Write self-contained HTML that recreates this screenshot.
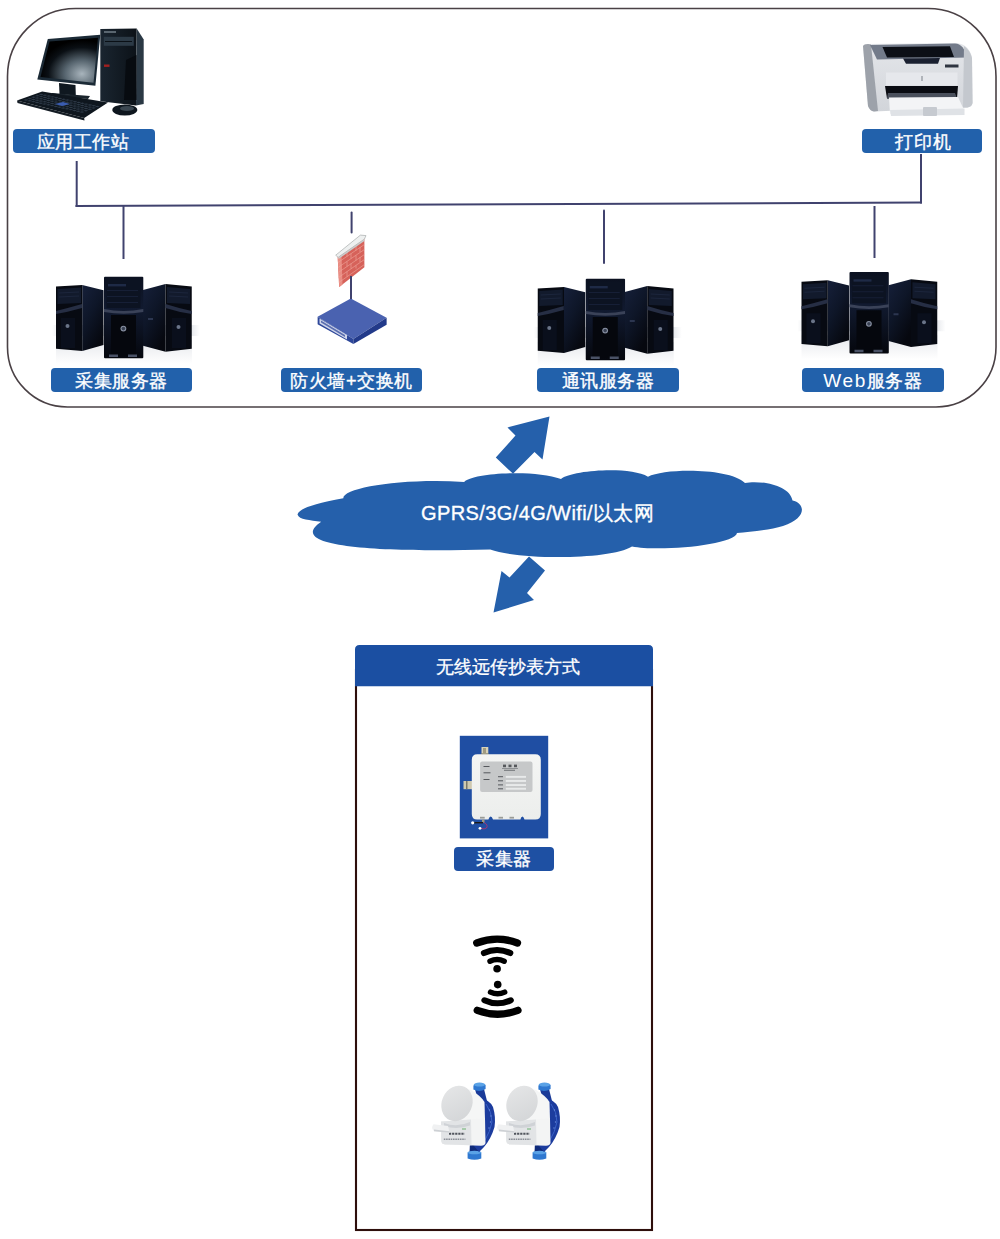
<!DOCTYPE html>
<html><head><meta charset="utf-8">
<style>
html,body{margin:0;padding:0;background:#fff;}
body{width:1000px;height:1239px;position:relative;overflow:hidden;font-family:"Liberation Sans",sans-serif;}
svg{position:absolute;left:0;top:0;}
.lb{position:absolute;background:#2261ab;color:#fff;border-radius:4px;font-weight:normal;font-size:18px;text-align:center;line-height:24px;height:23.5px;letter-spacing:0.6px;-webkit-text-stroke:0.35px #fff;}
.lb2{position:absolute;background:#1b4fa2;color:#fff;font-size:17px;text-align:center;}
.ct{position:absolute;color:#fff;font-size:17px;}
</style></head><body>
<svg width="1000" height="1239" viewBox="0 0 1000 1239">
<defs>
  <linearGradient id="sideL" x1="0" y1="0" x2="0.6" y2="1">
    <stop offset="0" stop-color="#16203a"/><stop offset="0.5" stop-color="#0e1628"/><stop offset="1" stop-color="#06080f"/>
  </linearGradient>
  <linearGradient id="sideR" x1="0" y1="0" x2="0.6" y2="1">
    <stop offset="0" stop-color="#16203a"/><stop offset="0.5" stop-color="#0e1628"/><stop offset="1" stop-color="#06080f"/>
  </linearGradient>
  <linearGradient id="front" x1="0" y1="0" x2="0" y2="1">
    <stop offset="0" stop-color="#0b1120"/><stop offset="0.4" stop-color="#111a30"/><stop offset="1" stop-color="#05070d"/>
  </linearGradient>
  <linearGradient id="floor" x1="0" y1="0" x2="1" y2="0">
    <stop offset="0" stop-color="#fff"/><stop offset="0.08" stop-color="#dfe2e7"/><stop offset="0.92" stop-color="#dfe2e7"/><stop offset="1" stop-color="#fff"/>
  </linearGradient>
  <linearGradient id="floorV" x1="0" y1="0" x2="0" y2="1">
    <stop offset="0" stop-color="#e6e8ec"/><stop offset="1" stop-color="#fff"/>
  </linearGradient>
  <g id="srv">
    <rect x="52" y="325" width="148" height="11" fill="url(#floor)"/>
    <rect x="56" y="340" width="136" height="24" fill="url(#floorV)"/>
    <!-- left server -->
    <polygon points="82.25,285 103.5,290.25 103.5,345 82.25,351" fill="url(#sideL)"/>
    <polygon points="56,286.5 82.25,285 82.25,351 56,348.75" fill="#070a12"/>
    <polygon points="57.5,289 81,287.5 81,303 57.5,304" fill="#121a2c"/>
    <line x1="59" y1="293" x2="79" y2="292" stroke="#1e2840" stroke-width="0.8"/>
    <line x1="59" y1="297" x2="79" y2="296" stroke="#1e2840" stroke-width="0.8"/>
    <path d="M56,311 Q68,308 82,304 L82,308 Q68,312 56,314Z" fill="#262e44"/>
    <rect x="61" y="318" width="14" height="30" fill="#0a0f1c"/>
    <circle cx="67.5" cy="326" r="2" fill="#6a7488"/>
    <!-- right server -->
    <polygon points="143,290 165.5,284 165.5,351.75 143,345.75" fill="url(#sideR)"/>
    <polygon points="165.5,284 191.75,286.5 191.75,348.75 165.5,351.75" fill="#070a12"/>
    <polygon points="167,287 190,289 190,304 167,303" fill="#121a2c"/>
    <line x1="169" y1="292" x2="188" y2="293" stroke="#1e2840" stroke-width="0.8"/>
    <line x1="169" y1="296" x2="188" y2="297" stroke="#1e2840" stroke-width="0.8"/>
    <path d="M165.5,304 Q178,308 191.75,311 L191.75,314 Q178,312 165.5,308Z" fill="#262e44"/>
    <rect x="172" y="318" width="14" height="30" fill="#0a0f1c"/>
    <circle cx="178.5" cy="327" r="2" fill="#6a7488"/>
    <rect x="148" y="318" width="5" height="2" fill="#2c3650"/>
    <!-- middle server -->
    <rect x="104" y="276.75" width="39.3" height="81.5" rx="1" fill="url(#front)"/>
    <rect x="106.5" y="280" width="34" height="28" fill="#0c1322"/>
    <rect x="108" y="284" width="18" height="2.4" fill="#1e2a46"/>
    <line x1="107" y1="290.5" x2="138" y2="290.5" stroke="#161f36" stroke-width="1"/>
    <line x1="107" y1="296.5" x2="138" y2="296.5" stroke="#161f36" stroke-width="1"/>
    <line x1="107" y1="302.5" x2="138" y2="302.5" stroke="#161f36" stroke-width="1"/>
    <path d="M104,309 Q123.5,313 143.3,309 L143.3,312 Q123.5,315.5 104,312Z" fill="#3a4258"/>
    <rect x="111" y="315" width="25" height="41" fill="#05070d"/>
    <circle cx="123.4" cy="328.6" r="2.9" fill="#8890a2"/><circle cx="123.4" cy="328.6" r="1.8" fill="#3a4254"/>
    <rect x="109" y="354.5" width="9" height="2.5" fill="#4a5266"/>
    <rect x="128" y="354.5" width="9" height="2.5" fill="#4a5266"/>
  </g>
  <radialGradient id="scr" cx="0.72" cy="0.8" r="0.75">
    <stop offset="0" stop-color="#a8b4bc"/><stop offset="0.4" stop-color="#56646e"/><stop offset="0.78" stop-color="#0a0f14"/><stop offset="1" stop-color="#000"/>
  </radialGradient>
  <linearGradient id="tower" x1="0" y1="0" x2="1" y2="0">
    <stop offset="0" stop-color="#1a2530"/><stop offset="1" stop-color="#0c1218"/>
  </linearGradient>
  <linearGradient id="prtop" x1="0" y1="0" x2="0" y2="1">
    <stop offset="0" stop-color="#d9dde3"/><stop offset="1" stop-color="#eef0f3"/>
  </linearGradient>
  <linearGradient id="mface" x1="0" y1="0" x2="1" y2="1">
    <stop offset="0" stop-color="#e6e7e8"/><stop offset="1" stop-color="#d2d4d6"/>
  </linearGradient>
  <linearGradient id="mblue" x1="0" y1="0" x2="1" y2="0">
    <stop offset="0" stop-color="#1d3f9a"/><stop offset="0.6" stop-color="#2a52b5"/><stop offset="1" stop-color="#17307a"/>
  </linearGradient>
  <g id="meter">
    <!-- pipes -->
    <path d="M475,1089 L484,1089 L487,1101 L478,1101Z" fill="#1a3a98"/>
    <path d="M473.4,1085.5 Q479.5,1081.5 485.6,1085 L485.6,1089 Q479.5,1092.5 473.4,1089.5Z" fill="#2f78d0"/>
    <ellipse cx="479.5" cy="1084.6" rx="5.8" ry="2" fill="#5aa2e6"/>
    <path d="M470,1143 L481,1143 L479.5,1152 L469.5,1152Z" fill="#0e2a7a"/>
    <path d="M467.6,1152.5 Q474.5,1150 481.3,1152.5 L481.3,1158.5 Q474.5,1161 467.6,1158.5Z" fill="#2f78d0"/>
    <ellipse cx="474.5" cy="1152.5" rx="6.8" ry="1.8" fill="#5aa2e6"/>
    <!-- blue body -->
    <path d="M478,1097 Q490,1100 493,1107 Q496,1117 494.5,1127 Q491,1139 484,1147 L479,1152 L474,1146 L482,1126 Z" fill="#1c3c9e"/>
    <path d="M486,1104 Q492,1112 492,1122 Q490,1132 485,1140" stroke="#3a62c8" stroke-width="1" fill="none"/>
    <g fill="#6a8ad8"><circle cx="489.5" cy="1110" r="0.7"/><circle cx="491" cy="1116" r="0.7"/><circle cx="490.5" cy="1122" r="0.7"/><circle cx="489" cy="1128" r="0.7"/></g>
    <!-- cylinder body white -->
    <path d="M455,1086 L471,1090 Q481,1096 484.5,1102 L485,1120 L470,1124 L452,1121Z" fill="#f5f6f6"/>
    <!-- box -->
    <path d="M441,1121.5 L471,1119.5 L485,1118 L485.5,1143 Q485,1145.5 481,1145.7 L445,1144.5 Q441.5,1144 441.2,1141Z" fill="#f3f4f4"/>
    <path d="M441,1121.5 L471,1119.5 L471.5,1145.2 L445,1144.5 Q441.5,1144 441.2,1141Z" fill="#e2e4e6"/>
    <path d="M444,1123 Q457,1128 470,1122 L470,1125.5 Q457,1130 444,1126Z" fill="#cfd2d6"/>
    <line x1="449" y1="1133.8" x2="464.7" y2="1133.8" stroke="#50545c" stroke-width="2" stroke-dasharray="2.2 0.9"/>
    <line x1="443.8" y1="1139.3" x2="465.4" y2="1139.3" stroke="#8a8e96" stroke-width="1.5" stroke-dasharray="1.6 0.7"/>
    <rect x="462" y="1128.5" width="4" height="1" fill="#6ab070"/>
    <!-- face -->
    <ellipse cx="457" cy="1103.4" rx="15.2" ry="18.2" transform="rotate(24 457 1103.4)" fill="url(#mface)"/>
    <!-- handle -->
    <path d="M433.5,1124.2 L448,1126 L449.6,1132.7 L434,1131.2 Q430.5,1128 433.5,1124.2Z" fill="#f0f1f2"/>
    <path d="M434,1129.6 L449.3,1131.2 L449.6,1132.7 L434,1131.2Z" fill="#cdd0d4"/>
  </g>
</defs>
  <!-- outer rounded rect -->
  <path d="M75.5,8.5 L928,8.5 A68,68 0 0 1 996,76.5 L996,347 A60,60 0 0 1 936,407 L67.5,407 A60,60 0 0 1 7.5,347 L7.5,76.5 A68,68 0 0 1 75.5,8.5 Z" fill="none" stroke="#4a4145" stroke-width="1.6"/>
  <!-- network lines -->
  <g stroke="#40426e" stroke-width="2" fill="none">
    <line x1="76.7" y1="161" x2="76.7" y2="207"/>
    <line x1="75.5" y1="206" x2="922" y2="202.5"/>
    <line x1="921" y1="154" x2="921" y2="203.5"/>
    <line x1="123.5" y1="206" x2="123.5" y2="259"/>
    <line x1="351.6" y1="212.5" x2="351.6" y2="232.5" stroke-linecap="round"/>
    <line x1="604" y1="210.5" x2="604" y2="263" stroke-linecap="round"/>
    <line x1="874.5" y1="206" x2="874.5" y2="258"/>
  </g>
  <use href="#srv"/>
  <use href="#srv" transform="translate(481.75,2)"/>
  <use href="#srv" transform="translate(745.5,-4.75)"/>
  <!-- computer -->
  <g>
    <polygon points="47.8,38.9 100.3,34.7 95.4,85.8 37.3,79.5" fill="#1b2a36"/>
    <polygon points="49.5,41.5 98,37.8 93.5,82.8 40.5,77" fill="url(#scr)"/>
    <polygon points="59,83 75.5,85 75.8,95.6 59.5,94" fill="#0f1820"/>
    <polygon points="52,93 90,96 88,99 50,96" fill="#1a242c"/>
    <polygon points="17,100.5 42.2,91.4 108,102.6 84.2,118" fill="#0e161e"/>
    <polygon points="17,100.5 84.2,118 84.5,120.5 17.5,103" fill="#141c24"/>
    <g transform="matrix(66.5 14.3 25.2 -9.1 17 100.5)" fill="#2e3a48"><rect x="0.050" y="0.120" width="0.041" height="0.094"/><rect x="0.106" y="0.120" width="0.041" height="0.094"/><rect x="0.163" y="0.120" width="0.041" height="0.094"/><rect x="0.219" y="0.120" width="0.041" height="0.094"/><rect x="0.275" y="0.120" width="0.041" height="0.094"/><rect x="0.331" y="0.120" width="0.041" height="0.094"/><rect x="0.388" y="0.120" width="0.041" height="0.094"/><rect x="0.444" y="0.120" width="0.041" height="0.094"/><rect x="0.500" y="0.120" width="0.041" height="0.094"/><rect x="0.556" y="0.120" width="0.041" height="0.094"/><rect x="0.613" y="0.120" width="0.041" height="0.094"/><rect x="0.669" y="0.120" width="0.041" height="0.094"/><rect x="0.725" y="0.120" width="0.041" height="0.094"/><rect x="0.781" y="0.120" width="0.041" height="0.094"/><rect x="0.838" y="0.120" width="0.041" height="0.094"/><rect x="0.894" y="0.120" width="0.041" height="0.094"/><rect x="0.050" y="0.272" width="0.041" height="0.094"/><rect x="0.106" y="0.272" width="0.041" height="0.094"/><rect x="0.163" y="0.272" width="0.041" height="0.094"/><rect x="0.219" y="0.272" width="0.041" height="0.094"/><rect x="0.275" y="0.272" width="0.041" height="0.094"/><rect x="0.331" y="0.272" width="0.041" height="0.094"/><rect x="0.388" y="0.272" width="0.041" height="0.094"/><rect x="0.444" y="0.272" width="0.041" height="0.094"/><rect x="0.500" y="0.272" width="0.041" height="0.094"/><rect x="0.556" y="0.272" width="0.041" height="0.094"/><rect x="0.613" y="0.272" width="0.041" height="0.094"/><rect x="0.669" y="0.272" width="0.041" height="0.094"/><rect x="0.725" y="0.272" width="0.041" height="0.094"/><rect x="0.781" y="0.272" width="0.041" height="0.094"/><rect x="0.838" y="0.272" width="0.041" height="0.094"/><rect x="0.894" y="0.272" width="0.041" height="0.094"/><rect x="0.050" y="0.424" width="0.041" height="0.094"/><rect x="0.106" y="0.424" width="0.041" height="0.094"/><rect x="0.163" y="0.424" width="0.041" height="0.094"/><rect x="0.219" y="0.424" width="0.041" height="0.094"/><rect x="0.275" y="0.424" width="0.041" height="0.094"/><rect x="0.331" y="0.424" width="0.041" height="0.094"/><rect x="0.388" y="0.424" width="0.041" height="0.094"/><rect x="0.444" y="0.424" width="0.041" height="0.094"/><rect x="0.500" y="0.424" width="0.041" height="0.094"/><rect x="0.556" y="0.424" width="0.041" height="0.094"/><rect x="0.613" y="0.424" width="0.041" height="0.094"/><rect x="0.669" y="0.424" width="0.041" height="0.094"/><rect x="0.725" y="0.424" width="0.041" height="0.094"/><rect x="0.781" y="0.424" width="0.041" height="0.094"/><rect x="0.838" y="0.424" width="0.041" height="0.094"/><rect x="0.894" y="0.424" width="0.041" height="0.094"/><rect x="0.050" y="0.576" width="0.041" height="0.094"/><rect x="0.106" y="0.576" width="0.041" height="0.094"/><rect x="0.163" y="0.576" width="0.041" height="0.094"/><rect x="0.219" y="0.576" width="0.041" height="0.094"/><rect x="0.275" y="0.576" width="0.041" height="0.094"/><rect x="0.331" y="0.576" width="0.041" height="0.094"/><rect x="0.388" y="0.576" width="0.041" height="0.094"/><rect x="0.444" y="0.576" width="0.041" height="0.094"/><rect x="0.500" y="0.576" width="0.041" height="0.094"/><rect x="0.556" y="0.576" width="0.041" height="0.094"/><rect x="0.613" y="0.576" width="0.041" height="0.094"/><rect x="0.669" y="0.576" width="0.041" height="0.094"/><rect x="0.725" y="0.576" width="0.041" height="0.094"/><rect x="0.781" y="0.576" width="0.041" height="0.094"/><rect x="0.838" y="0.576" width="0.041" height="0.094"/><rect x="0.894" y="0.576" width="0.041" height="0.094"/><rect x="0.050" y="0.728" width="0.041" height="0.094"/><rect x="0.106" y="0.728" width="0.041" height="0.094"/><rect x="0.163" y="0.728" width="0.041" height="0.094"/><rect x="0.219" y="0.728" width="0.041" height="0.094"/><rect x="0.275" y="0.728" width="0.041" height="0.094"/><rect x="0.331" y="0.728" width="0.041" height="0.094"/><rect x="0.388" y="0.728" width="0.041" height="0.094"/><rect x="0.444" y="0.728" width="0.041" height="0.094"/><rect x="0.500" y="0.728" width="0.041" height="0.094"/><rect x="0.556" y="0.728" width="0.041" height="0.094"/><rect x="0.613" y="0.728" width="0.041" height="0.094"/><rect x="0.669" y="0.728" width="0.041" height="0.094"/><rect x="0.725" y="0.728" width="0.041" height="0.094"/><rect x="0.781" y="0.728" width="0.041" height="0.094"/><rect x="0.838" y="0.728" width="0.041" height="0.094"/><rect x="0.894" y="0.728" width="0.041" height="0.094"/></g>
    <polygon points="55,104 63,102 70,104 62,106" fill="#3a5cb0"/>
    <polygon points="100.3,29.1 136.7,28.4 136,105.4 100.3,101.2" fill="url(#tower)"/>
    <polygon points="136.7,28.4 143.7,39.6 143.7,104 136,105.4" fill="#2a3844"/>
    <rect x="103.8" y="36.8" width="30" height="9" fill="#2c3a46"/>
    <line x1="105" y1="41.5" x2="132" y2="41.5" stroke="#0a1016" stroke-width="1"/>
    <rect x="104" y="31" width="12" height="2" fill="#5a6670"/>
    <rect x="104" y="64.5" width="5.5" height="2.4" fill="#a02020"/>
    <polygon points="126,60 136.5,55 136.5,100 124,100" fill="#070b10"/>
    <ellipse cx="124.8" cy="110" rx="12.5" ry="5.5" fill="#0e161e"/>
    <ellipse cx="127" cy="108.5" rx="7" ry="2.5" fill="#3a4650"/>
  </g>
  <!-- printer -->
  <defs>
    <linearGradient id="prb" x1="0" y1="0" x2="0" y2="1">
      <stop offset="0" stop-color="#e4e6ea"/><stop offset="1" stop-color="#d2d5da"/>
    </linearGradient>
  </defs>
  <g>
    <path d="M863,46 Q864,44 868,44 L955,43 Q968,43 972,57 L972.5,103 Q972,107 967.5,107.5 L874,111.5 Q870,111 868,106 Z" fill="url(#prb)"/>
    <path d="M863,46 Q864,44 868,44 L871,44.5 L878,111 L874,111.5 Q870,111 868,106 Z" fill="#9da2aa"/>
    <path d="M870,45 L955,43.5 Q964,44 967,57.5 L877,59.5 Z" fill="#737b8a"/>
    <polygon points="882.5,46.9 950,46.2 954,57 887,57.5" fill="#0c0f16"/>
    <polygon points="903,58.5 940,58 938,63.75 906,63.75" fill="#1a2030"/>
    <rect x="945" y="64.5" width="13.5" height="3" fill="#2e3440"/>
    <path d="M964,46 Q970,50 972,58 L972.5,103 Q972,106 967.5,107.5 L963,107.5 Z" fill="#c4c8ce"/>
    <rect x="886" y="72.5" width="71.5" height="13" fill="#e6e8ec"/>
    <rect x="921" y="76" width="2" height="5" fill="#b0b4ba"/>
    <polygon points="885,86 958,86 957,98.5 887,98.5" fill="#0a0c12"/>
    <polygon points="888,93 955,93 957,98.5 887,98.5" fill="#4a505c"/>
    <polygon points="889,97.5 958,97 964.5,111 890,114" fill="#f3f4f6"/>
    <polygon points="890,110 964.5,108.5 964.5,115 891,116" fill="#dfe2e6"/>
    <rect x="923" y="107" width="14" height="9" rx="1" fill="#c6cad0"/>
  </g>
  <!-- firewall -->
  <g>
    <polygon points="337.7,257.3 364.4,239.1 364.4,267.3 339.2,287" fill="#d6625a"/>
    <polygon points="337.7,257.3 341.5,254.8 342.5,284.5 339.2,287" fill="#ea8e84"/>
    <g stroke="#f0a89e" stroke-width="0.6">
      <line x1="338" y1="262.5" x2="364.4" y2="244.5"/>
      <line x1="338" y1="267.5" x2="364.4" y2="249.5"/>
      <line x1="338.3" y1="272.5" x2="364.4" y2="254.5"/>
      <line x1="338.5" y1="277.5" x2="364.4" y2="259.5"/>
      <line x1="338.8" y1="282.5" x2="364.4" y2="264.5"/>
      <line x1="347" y1="251.5" x2="347" y2="256.5"/><line x1="356" y1="245.5" x2="356" y2="250.5"/>
      <line x1="351" y1="253.5" x2="351" y2="258.5"/><line x1="360" y1="247" x2="360" y2="252"/>
      <line x1="347" y1="261.5" x2="347" y2="266.5"/><line x1="356" y1="255.5" x2="356" y2="260.5"/>
      <line x1="351" y1="263.5" x2="351" y2="268.5"/><line x1="360" y1="257" x2="360" y2="262"/>
      <line x1="347" y1="271.5" x2="347" y2="276.5"/><line x1="356" y1="265.5" x2="356" y2="268.5"/>
    </g>
    <polygon points="335.7,255.2 360.4,235.1 366,235.6 364.4,239.1 338.2,257.3" fill="#eef0f0" stroke="#9aa0a0" stroke-width="0.6"/>
    <polygon points="338.2,257.3 364.4,239.1 364.4,241 338.5,259" fill="#c8cccc"/>
    <polygon points="350.8,298.6 386.6,317.8 353.4,339 317.6,316.8" fill="#4a62b0"/>
    <polygon points="317.6,316.8 353.4,339 353.4,344 317.6,324.3" fill="#2d479a"/>
    <polygon points="353.4,339 386.6,317.8 386.6,324.8 353.4,344" fill="#223a8a"/>
    <polygon points="319.5,318.5 347,335 347,339.5 319.5,323.5" fill="#d0d6ea"/>
    <polygon points="321,320.5 345,335 345,337 321,322.5" fill="#5a6eb0"/>
  </g>
  <line x1="351" y1="276" x2="351" y2="299" stroke="#40426e" stroke-width="2"/>
  <!-- collector -->
  <defs>
    <linearGradient id="colb" x1="0" y1="0" x2="0" y2="1">
      <stop offset="0" stop-color="#f4f5f4"/><stop offset="1" stop-color="#eceeec"/>
    </linearGradient>
  </defs>
  <g>
    <rect x="459.8" y="735.8" width="88.4" height="102.6" fill="#1f4ea3"/>
    <rect x="481.5" y="747" width="6.8" height="10" fill="#d8d2b8"/>
    <rect x="481" y="753.5" width="7.8" height="2.6" fill="#6a6a58"/>
    <rect x="483" y="748" width="3" height="5" fill="#a09a80"/>
    <rect x="463.5" y="781" width="8.5" height="8.2" fill="#cfc9b0"/>
    <rect x="466" y="781" width="1.5" height="8.2" fill="#7a7868"/>
    <path d="M477.3,754.2 L535.3,754.2 Q540.8,754.2 540.8,759.7 L540.8,814 Q540.8,819.6 535.3,819.6 L524.5,819.6 Q523.5,816.5 522.4,816.5 Q521.2,816.5 520.4,819.6 L493,819.6 Q492,816.5 490.7,816.5 Q489.4,816.5 488.4,819.6 L477.3,819.6 Q471.8,819.6 471.8,814 L471.8,759.7 Q471.8,754.2 477.3,754.2Z" fill="url(#colb)"/>
    <rect x="480.1" y="761.6" width="52.4" height="30.4" rx="2" fill="#c6c8c9"/>
    <g fill="#55585c">
      <rect x="503" y="764.6" width="3" height="2.6"/><rect x="508.5" y="764.6" width="3" height="2.6"/><rect x="514" y="764.6" width="3" height="2.6"/>
      <rect x="502" y="768.3" width="16" height="0.5"/>
      <rect x="504" y="769.8" width="11" height="0.8"/>
      <rect x="483.5" y="766" width="6" height="1"/>
      <rect x="483.5" y="772.3" width="7" height="1"/>
      <rect x="483.5" y="779" width="6" height="1"/>
      <rect x="498" y="776.2" width="5" height="1"/>
      <rect x="498" y="780.3" width="5" height="1"/>
      <rect x="498" y="784.4" width="5" height="1"/>
      <rect x="498" y="788.3" width="5" height="1"/>
    </g>
    <g fill="#e8eaea">
      <rect x="505.8" y="775.9" width="20.2" height="1.9"/>
      <rect x="505.8" y="780" width="20.2" height="1.9"/>
      <rect x="505.8" y="784.1" width="20.2" height="1.9"/>
      <rect x="505.8" y="787.8" width="20.2" height="1.9"/>
    </g>
    <g fill="#9a9c98">
      <rect x="480" y="816.8" width="4.7" height="1.8"/>
      <rect x="498.5" y="816.8" width="4.5" height="1.8"/>
      <rect x="509.5" y="816.8" width="4.5" height="1.8"/>
    </g>
    <rect x="482" y="819.6" width="2.5" height="3" fill="#a09a80"/>
    <rect x="474" y="822" width="9" height="1.4" fill="#1a1a1a"/>
    <circle cx="472.7" cy="822.8" r="1.6" fill="#fff"/>
    <path d="M484,822.5 Q488.5,825 486.5,828 Q484.5,829.5 481,828.5" stroke="#c0306a" stroke-width="0.8" fill="none"/>
    <circle cx="480" cy="828.3" r="1.4" fill="#fff"/>
  </g>
  <!-- wifi -->
  <g id="wtop" fill="none" stroke="#000" stroke-linecap="round">
    <path d="M476.78,942.94 A57.75,57.75 0 0 1 517.42,942.94" stroke-width="7.4"/>
    <path d="M483.87,953.03 A31.3,31.3 0 0 1 510.33,953.03" stroke-width="6.0"/>
    <path d="M489.98,961.23 A16.4,16.4 0 0 1 504.22,961.23" stroke-width="5.4"/>
  </g>
  <use href="#wtop" transform="translate(0.5,1953.3) scale(1,-1)"/>
  <circle cx="497.1" cy="968.7" r="3.8" fill="#000"/>
  <circle cx="497.7" cy="984.6" r="3.8" fill="#000"/>
  <use href="#meter"/>
  <use href="#meter" transform="translate(65,0)"/>
  <!-- cloud -->
  <path fill="#2560ab" d="M297.5,514.5 C299,509 312,504 343.3,498.3 C343,488 400,478 464.2,481.9 C472,473 535,469 561,479 C572,470 630,466 648,476.7 C665,468 730,468 745,483 C760,480 790,485 792.5,500.5 C805,503 808,518 783,526 C770,530 750,532 737,533 C735,545 660,552 632,546.4 C610,560 520,560 490.2,549.5 C400,552 280,550 321.2,521.7 C310,520 299,520 297.5,514.5 Z"/>
  <!-- arrows -->
  <polygon fill="#2560ab" points="549.5,416.5 507.5,427.5 515.5,435.5 495.8,457.5 513,473.8 534.5,452 542.5,459.5"/>
  <polygon fill="#2560ab" points="493.5,612.5 501.5,571 509.5,577.5 529,556.5 545,570.5 527,593 534,600"/>
  <!-- bottom box -->
  <rect x="356" y="670" width="296" height="560" fill="none" stroke="#2e0f0c" stroke-width="2.1"/>
  <path d="M355,686.3 L355,649.5 Q355,645 359.5,645 L648.5,645 Q653,645 653,649.5 L653,686.3 Z" fill="#1b4fa2"/>
</svg>
<div class="lb" style="left:13px;top:129px;width:140px;padding-right:2px;line-height:26px;">应用工作站</div>
<div class="lb" style="left:862px;top:129px;width:117px;padding-left:3px;line-height:26px;letter-spacing:1px;">打印机</div>
<div class="lb" style="left:51px;top:368px;width:141px;line-height:26.5px;">采集服务器</div>
<div class="lb" style="left:281px;top:368px;width:141px;line-height:26.5px;">防火墙+交换机</div>
<div class="lb" style="left:537px;top:368px;width:142px;line-height:26.5px;">通讯服务器</div>
<div class="lb" style="left:802px;top:368px;width:142px;line-height:26.5px;"><span style="-webkit-text-stroke:0;font-size:19px;letter-spacing:1.6px;">Web</span>服务器</div>
<div class="ct" style="left:421px;top:500px;font-size:20px;letter-spacing:0.4px;-webkit-text-stroke:0.35px #fff;">GPRS/3G/4G/Wifi/以太网</div>
<div class="lb2" style="left:355px;top:655px;width:290px;padding-left:8px;line-height:24px;font-size:18px;-webkit-text-stroke:0.3px #fff;">无线远传抄表方式</div>
<div class="lb" style="left:454px;top:847px;width:100px;background:#1e50a3;">采集器</div>
</body></html>
